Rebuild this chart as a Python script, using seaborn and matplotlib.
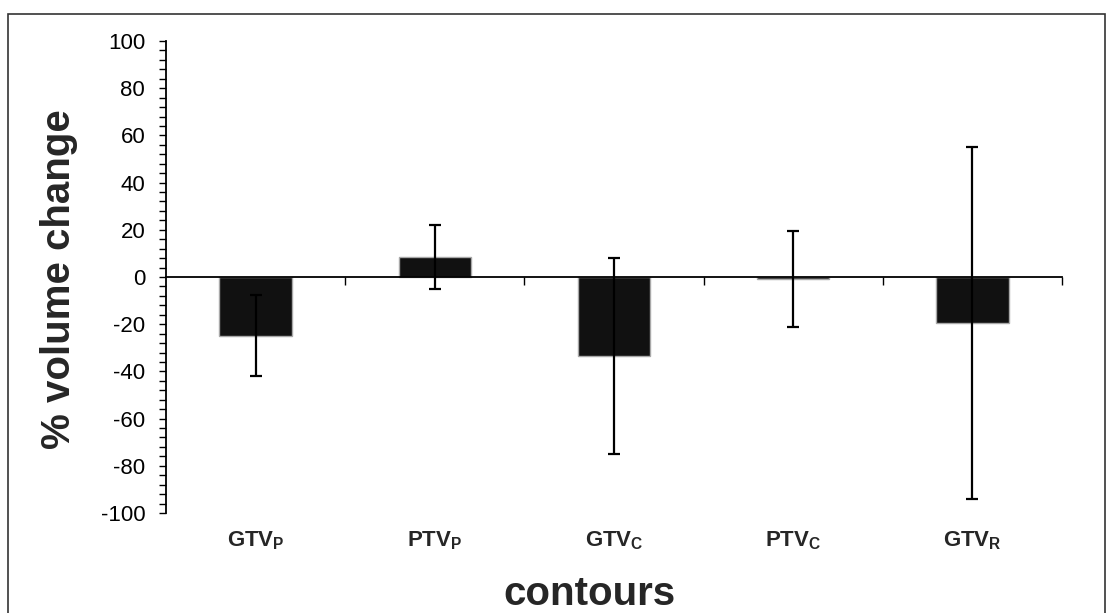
import matplotlib
matplotlib.use("Agg")
import matplotlib.pyplot as plt
import matplotlib.patches as patches
from matplotlib.ticker import MultipleLocator, FixedLocator, NullFormatter
import seaborn as sns
import pandas as pd

# datos
contours = ['GTV$_\\mathbf{P}$', 'PTV$_\\mathbf{P}$', 'GTV$_\\mathbf{C}$',
            'PTV$_\\mathbf{C}$', 'GTV$_\\mathbf{R}$']
mean_change = [-24.8, 8.4, -33.4, -0.8, -19.5]
err_change = [17.1, 13.5, 41.5, 20.3, 74.7]
y_ticks = [-100, -80, -60, -40, -20, 0, 20, 40, 60, 80, 100]

sns.set_style("ticks")
plt.rcParams['font.family'] = ['Liberation Sans', 'DejaVu Sans']
plt.rcParams['mathtext.fontset'] = 'custom'
plt.rcParams['mathtext.bf'] = 'Liberation Sans:bold'
plt.rcParams['mathtext.rm'] = 'Liberation Sans'
plt.rcParams['axes.unicode_minus'] = False

df = pd.DataFrame({'contour': contours, 'change': mean_change})

fig = plt.figure(figsize=(11.08, 6.13), dpi=100)
ax = fig.add_axes([0.1498, 0.1631, 0.9585 - 0.1498, 0.9331 - 0.1631])

sns.barplot(x='contour', y='change', data=df, color='#111111', width=0.405,
            edgecolor='#a8a8a8', linewidth=1, saturation=1, ax=ax)
ax.errorbar(range(len(contours)), mean_change, yerr=err_change, fmt='none',
            ecolor='black', elinewidth=1.6, capsize=4.3, capthick=1.6, zorder=5)

ax.set_xlim(-0.5, len(contours) - 0.5)
ax.set_ylim(-100, 100)
ax.set_yticks(y_ticks)
ax.yaxis.set_minor_locator(MultipleLocator(4))
ax.tick_params(axis='y', which='major', length=5, width=1, direction='out',
               labelsize=16, pad=10, colors='black')
ax.tick_params(axis='y', which='minor', length=5, width=1, direction='out',
               colors='black')

# eje x en cero con marcas entre categorias
ax.spines['bottom'].set_position(('data', 0))
ax.spines['top'].set_visible(False)
ax.spines['right'].set_visible(False)
ax.spines['left'].set_linewidth(1.3)
ax.spines['bottom'].set_linewidth(1.3)
ax.spines['left'].set_color('black')
ax.spines['bottom'].set_color('black')
ax.xaxis.set_minor_locator(FixedLocator([i + 0.5 for i in range(len(contours))]))
ax.xaxis.set_minor_formatter(NullFormatter())
ax.tick_params(axis='x', which='major', length=0, labelbottom=False)
ax.tick_params(axis='x', which='minor', length=6, width=1, direction='out',
               colors='black')
ax.set_xlabel('')
ax.set_ylabel('')

# etiquetas de categoria abajo
sec = ax.secondary_xaxis('bottom')
sec.set_xticks(range(len(contours)))
sec.set_xticklabels(contours, fontsize=16, fontweight='bold')
sec.tick_params(length=0, pad=12)
sec.spines['bottom'].set_visible(False)

fig.text(59 / 1108, 1 - 279 / 613, '% volume change', rotation=90,
         ha='center', va='center', fontsize=29, fontweight='bold')
fig.text(589 / 1108, 1 - 605 / 613, 'contours', ha='center', va='baseline',
         fontsize=29, fontweight='bold')

# marco de la figura
frame = patches.Rectangle((8 / 1108, -0.05), (1105 - 8) / 1108, 1.05 - 14 / 613,
                          transform=fig.transFigure, fill=False,
                          edgecolor='#333333', linewidth=1.2, clip_on=False)
fig.patches.append(frame)

plt.savefig('out.png', dpi=100, facecolor='white')
plt.close(fig)
